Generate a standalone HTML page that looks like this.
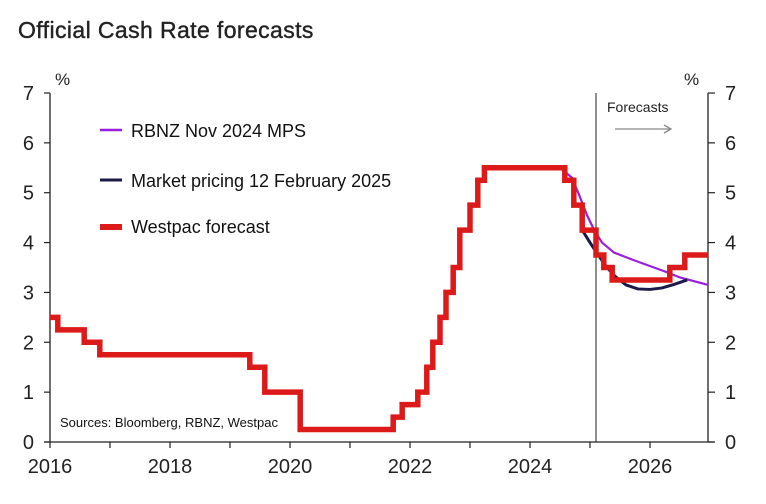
<!DOCTYPE html>
<html><head><meta charset="utf-8"><style>
body{margin:0;background:#fff;}
svg{display:block;font-family:"Liberation Sans",Arial,sans-serif;}
</style></head><body>
<svg id="chart" width="766" height="504">
<text x="18" y="38" font-size="23" fill="#222" stroke="#222" stroke-width="0.4" letter-spacing="0.4">Official Cash Rate forecasts</text>
<g id="axes"></g>
<g id="series"></g>
<g>
<line x1="100" y1="130" x2="122" y2="130" stroke="#9b1ee0" stroke-width="2.5"/>
<text x="131" y="137" font-size="18" fill="#111">RBNZ Nov 2024 MPS</text>
<line x1="100" y1="180" x2="122" y2="180" stroke="#1c1a4a" stroke-width="3"/>
<text x="131" y="187" font-size="18" fill="#111">Market pricing 12 February 2025</text>
<line x1="100" y1="227" x2="122" y2="227" stroke="#dd1a1a" stroke-width="6"/>
<text x="131" y="233" font-size="18" fill="#111">Westpac forecast</text>
</g>
<text x="60" y="427" font-size="13" fill="#111">Sources: Bloomberg, RBNZ, Westpac</text>
<text x="607" y="112" font-size="14" fill="#222">Forecasts</text>
<g stroke="#888" stroke-width="1.3" fill="none">
<line x1="615" y1="129" x2="671" y2="129"/><polyline points="664,125 671,129 664,133"/>
</g>
</svg>
<script>
const yTicks=[0,1,2,3,4,5,6,7];
const xTickLabels=[2016,2018,2020,2022,2024,2026];
const westpacDates=[2016.0,2016.13,2016.57,2016.83,2019.33,2019.58,2020.17,2021.72,2021.87,2022.13,2022.28,2022.38,2022.5,2022.6,2022.72,2022.83,2023.0,2023.13,2023.24,2023.37,2024.58,2024.73,2024.87,2025.1,2025.23,2025.37,2026.33,2026.58];
const westpacRates=[2.5,2.25,2.0,1.75,1.5,1.0,0.25,0.5,0.75,1.0,1.5,2.0,2.5,3.0,3.5,4.25,4.75,5.25,5.5,5.5,5.25,4.75,4.25,3.75,3.5,3.25,3.5,3.75];
const westpacEnd=2026.97;
const rbnzDates=[2024.5,2024.7,2024.82,2024.95,2025.07,2025.2,2025.4,2025.7,2025.95,2026.25,2026.5,2026.75,2026.97];
const rbnzRates=[5.5,5.3,4.95,4.55,4.25,4.0,3.8,3.66,3.55,3.42,3.3,3.22,3.15];
const marketDates=[2024.87,2025.0,2025.12,2025.27,2025.42,2025.6,2025.8,2026.0,2026.2,2026.4,2026.62];
const marketRates=[4.25,4.0,3.78,3.52,3.32,3.15,3.07,3.06,3.09,3.16,3.25];
const forecastStart=2025.1;

const NS="http://www.w3.org/2000/svg";
const X0=50,X1=708,Y0=442,Y1=93,D0=2016,D1=2026.97;
const xs=d=>X0+(d-D0)*60;
const ys=v=>Y0-(v/7)*(Y0-Y1);
function mk(tag,attrs,parent){const e=document.createElementNS(NS,tag);for(const k in attrs)e.setAttribute(k,attrs[k]);parent.appendChild(e);return e;}
const ax=document.getElementById('axes'),sr=document.getElementById('series');
let a=mk('line',{x1:X0,y1:Y1,x2:X0,y2:Y0,stroke:'#222','stroke-width':1.3},ax);


a=mk('line',{x1:X1,y1:Y1,x2:X1,y2:Y0,stroke:'#222','stroke-width':1.3},ax);


a=mk('line',{x1:X0-6,y1:Y0,x2:X1+6,y2:Y0,stroke:'#222','stroke-width':1.3},ax);


yTicks.forEach(v=>{const y=ys(v);
 mk('line',{x1:X0-6,y1:y,x2:X0,y2:y,stroke:'#222','stroke-width':1.2},ax);
 mk('line',{x1:X1,y1:y,x2:X1+7,y2:y,stroke:'#222','stroke-width':1.2},ax);
 let t=mk('text',{x:X0-16,y:y+7,'font-size':20,'text-anchor':'end',fill:'#222'},ax);t.textContent=v;
 
 
 t=mk('text',{x:X1+17,y:y+7,'font-size':20,fill:'#222'},ax);t.textContent=v;
 
 
});
let p=mk('text',{x:55,y:85,'font-size':17,fill:'#222'},ax);p.textContent='%';


p=mk('text',{x:684,y:85,'font-size':17,fill:'#222'},ax);p.textContent='%';


for(let yr=2016;yr<=2026;yr++){mk('line',{x1:xs(yr),y1:Y0,x2:xs(yr),y2:Y0+6,stroke:'#222','stroke-width':1.2},ax);}
xTickLabels.forEach(yr=>{const t=mk('text',{x:xs(yr),y:473,'font-size':20,'text-anchor':'middle',fill:'#222'},ax);t.textContent=yr;
 
 });
const fl=mk('line',{x1:xs(forecastStart),y1:Y1,x2:xs(forecastStart),y2:Y0,stroke:'#222','stroke-width':1},ax);



let rp=rbnzDates.map((d,i)=>xs(d)+','+ys(rbnzRates[i])).join(' ');
const rb=mk('polyline',{points:rp,fill:'none',stroke:'#9b1ee0','stroke-width':2.2,'stroke-linejoin':'round'},sr);


let mp=marketDates.map((d,i)=>xs(d)+','+ys(marketRates[i])).join(' ');
const mkt=mk('polyline',{points:mp,fill:'none',stroke:'#1c1a4a','stroke-width':3,'stroke-linejoin':'round'},sr);


let pts=[];
westpacDates.forEach((d,i)=>{const next=i+1<westpacDates.length?westpacDates[i+1]:westpacEnd;
 pts.push(xs(d)+','+ys(westpacRates[i]));pts.push(xs(next)+','+ys(westpacRates[i]));});
const wp=mk('polyline',{points:pts.join(' '),fill:'none',stroke:'#dd1a1a','stroke-width':5.5,'stroke-linejoin':'miter'},sr);


</script>
</body></html>
